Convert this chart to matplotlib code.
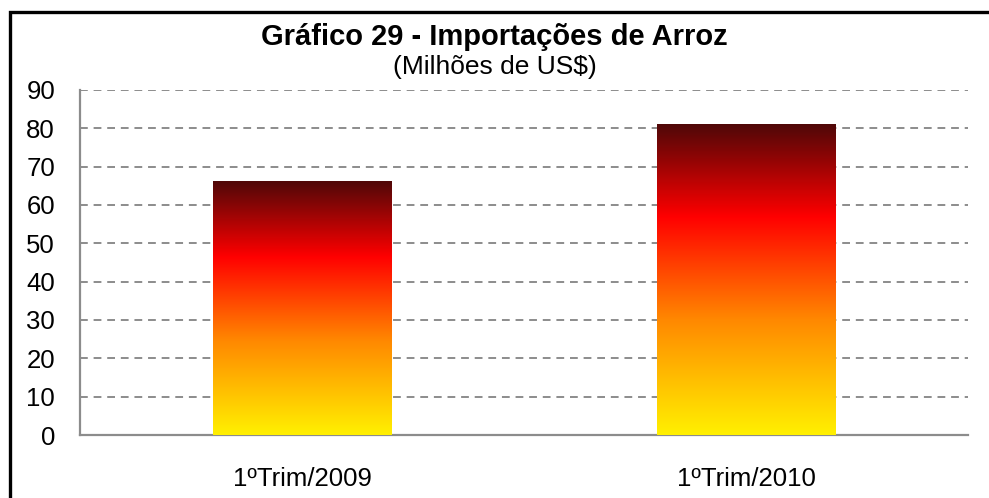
import numpy as np
import matplotlib.pyplot as plt
from matplotlib.colors import LinearSegmentedColormap
from matplotlib.patches import Rectangle

plt.rcParams["font.family"] = ["Liberation Sans", "DejaVu Sans"]

categories = ["1ºTrim/2009", "1ºTrim/2010"]
values = [66.3, 81.2]
yticks = [0, 10, 20, 30, 40, 50, 60, 70, 80, 90]

grad = LinearSegmentedColormap.from_list(
    "fire",
    [(0.0, "#FFF000"), (0.37, "#FF8800"), (0.70, "#FF0000"), (1.0, "#4E0808")],
)

fig = plt.figure(figsize=(9.89, 4.98), dpi=100, facecolor="white")
ax = fig.add_axes([0.0809, 0.1265, 0.8979, 0.6928])

# outer frame (only top and left edges fall inside the picture)
fig.patches.append(
    Rectangle((0.0101, -0.2), 1.5, 0.2 + 0.976, transform=fig.transFigure,
              fill=False, edgecolor="black", linewidth=2.4, zorder=10)
)

x = np.arange(len(categories))
bars = ax.bar(x, values, width=0.403, color="none", edgecolor="none", zorder=3)

g = np.linspace(0, 1, 256).reshape(-1, 1)
for b in bars:
    x0, y0 = b.get_x(), b.get_y()
    w, h = b.get_width(), b.get_height()
    im = ax.imshow(g, cmap=grad, origin="lower", aspect="auto",
                   extent=[x0, x0 + w, y0, y0 + h], zorder=3)
    im.set_clip_path(b)

ax.set_xlim(-0.5, 1.5)
ax.set_ylim(0, 90)
ax.set_yticks(yticks)
ax.set_xticks(x)
ax.set_xticklabels(categories)
ax.tick_params(axis="y", length=0, pad=18, labelsize=18.5)
ax.tick_params(axis="x", length=0, pad=23, labelsize=18.5)

ax.yaxis.grid(True, color="#8C8C8C", linestyle=(0, (4, 3)), linewidth=1.4, zorder=1)
ax.set_axisbelow(True)
for s in ["top", "right"]:
    ax.spines[s].set_visible(False)
for s in ["left", "bottom"]:
    ax.spines[s].set_color("#8C8C8C")
    ax.spines[s].set_linewidth(1.6)

fig.text(0.5, 0.9096, "Gráfico 29 - Importações de Arroz",
         ha="center", va="baseline", fontsize=21, fontweight="bold")
fig.text(0.5, 0.851, "(Milhões de US$)", ha="center", va="baseline", fontsize=19)

fig.savefig("out.png", dpi=100, facecolor="white")
plt.close()
